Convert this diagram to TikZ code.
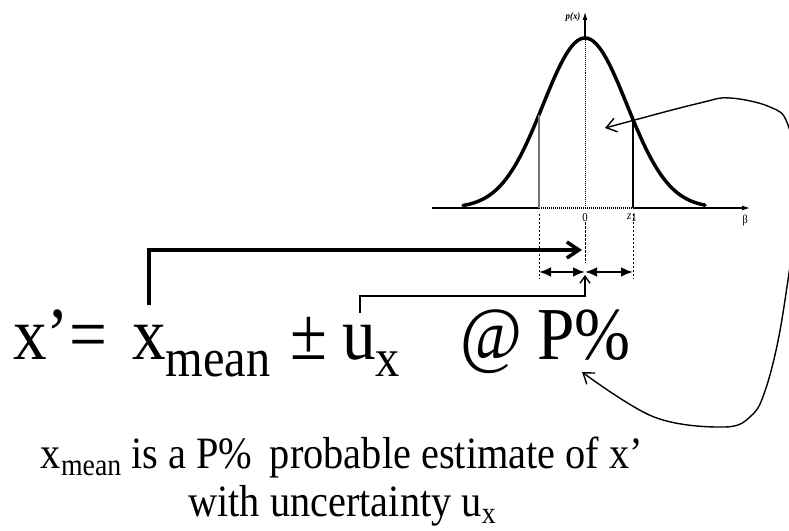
\documentclass[tikz,border=0pt]{standalone}
\usepackage{fontspec}
\setmainfont[FakeStretch=0.9]{Liberation Serif}
\usetikzlibrary{arrows.meta,calc}
\definecolor{scangrey}{gray}{0.45}
\tikzset{
  >={Straight Barb[length=12bp,width=16bp]},
  % formel
  big/.style={font=\fontsize{75}{75}\selectfont,inner sep=0pt,anchor=base west},
  note/.style={font=\fontsize{45}{50}\selectfont,inner sep=0pt,anchor=base},
  lbl/.style={font=\fontsize{12}{12}\selectfont,inner sep=0pt},
  % fördelning
  axis/.style={-{Latex[length=8bp,width=5bp]},line width=1.2pt},
  dotaxis/.style={line width=1.2pt,dash pattern=on 1pt off 1pt},
  gauss/.style={line width=3.5pt,line cap=round},
  cut/.style={line width=1.4pt},
  guide/.style={line width=0.9pt,dash pattern=on 2.5pt off 1.5pt},
  span/.style={{Latex[length=12bp,width=10bp]}-{Latex[length=12bp,width=10bp]},line width=2.6pt},
  % pilar
  lead/.style={->,line width=3.5pt},
  leadthin/.style={-{Straight Barb[length=7bp,width=10bp]},line width=1.4pt},
  swing/.style={{Straight Barb[length=10bp,width=14bp]}-{Straight Barb[length=10bp,width=14bp]},line width=1.4pt},
}
\newcommand{\bigsub}[1]{\raisebox{-17bp}{\fontsize{54}{54}\selectfont #1}}
\newcommand{\smallsub}[1]{\raisebox{-7bp}{\fontsize{31}{31}\selectfont #1}}

\begin{document}
\begin{tikzpicture}[x=1bp,y=1bp]
  \useasboundingbox (0,0) rectangle (789,531);
  % fördelningen
  \coordinate (peak) at (585,493);
  \draw[line width=1.2pt] (432,323) -- (539,323);
  \draw[dotaxis] (539,323) -- (633,323);
  \draw[axis] (633,323) -- (750,323);
  \draw[dotaxis,line width=0.9pt] (585,323) -- (peak);
  \draw[axis] (peak) -- (585,519);
  \draw[gauss] plot[domain=-122:120,samples=90] ({585+\x},{323+170*exp(-(\x*\x)/3528)});
  \draw[cut,draw=scangrey,line width=2.4pt] (539,323) -- (539,416);
  \draw[cut] (633,323) -- (633,411);
  \node[lbl,font=\fontsize{10}{10}\selectfont\bfseries\itshape] (px) at (573,514) {p(x)};
  \node[lbl] (zero) at (585,313) {0};
  \node[lbl] (z1) at (632,313) {\textit{z}\raisebox{-2bp}{1}};
  \node[lbl] (beta) at (745,310) {β};
  \coordinate (area) at (605,403);
  % markeringar
  \coordinate (lo) at (539,259);
  \coordinate (mid) at (585,259);
  \coordinate (hi) at (633,259);
  \draw[guide] (539,317) -- (539,253);
  \draw[guide] (zero.south) -- (585,268);
  \draw[guide] (633,317) -- (633,253);
  \draw[span] (lo) -- (mid);
  \draw[span] (mid) -- (hi);
  % formeln
  \node[big] (lhs) at (13,171) {x’=};
  \node[big] (xm) at (132,171) {x\bigsub{mean}};
  \node[big] (pm) at (290,171) {±};
  \node[big] (ux) at (342,171) {u\bigsub{x}};
  \node[big] (at) at (460,171) {@};
  \node[big] (pct) at (537,171) {P\%};
  \coordinate (hit) at (582,281);
  \draw[lead] ($(xm.north west)+(17,20)$) |- (hit);
  \draw[leadthin] ($(ux.north west)+(18,12)$) |- (585,235) -- (585,256);
  \draw[swing] (area) plot[smooth,tension=0.6] coordinates {(605,403) (700,428) (730,433) (770,424) (788,406) (800,340) (789,258) (778,190) (765,140) (752,116) (725,104) (654,114) (582,159)};
  % text
  \node[note] (note1) at (342,62) {x\smallsub{mean} is a P\% \,probable estimate of x’};
  \node[note] (note2) at (342,14) {with uncertainty u\smallsub{x}};
\end{tikzpicture}
\end{document}
